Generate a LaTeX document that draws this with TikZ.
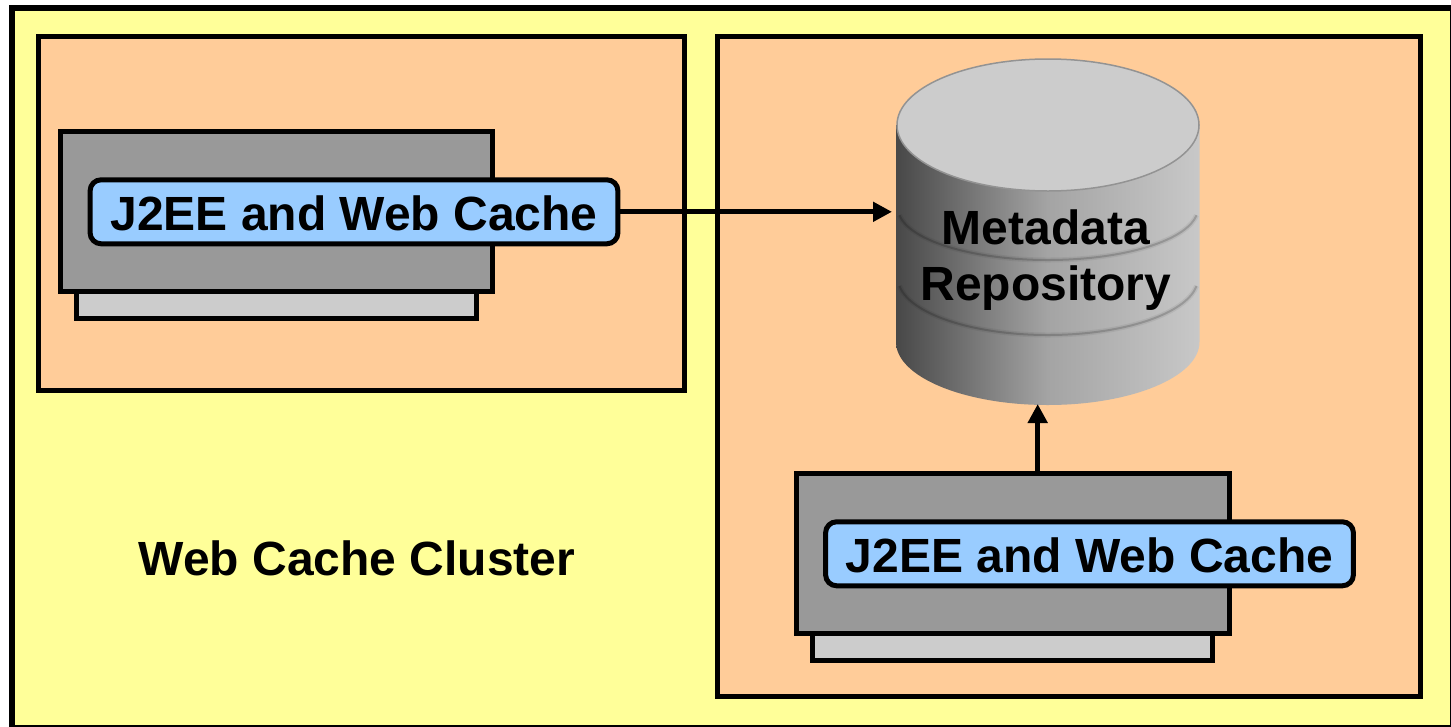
\documentclass[tikz,border=0pt]{standalone}
\usepackage{fontspec}
\setmainfont{Liberation Sans}
\usetikzlibrary{arrows.meta}
\definecolor{bgyellow}{HTML}{FFFF99}
\definecolor{panel}{HTML}{FFCC99}
\definecolor{srv}{HTML}{999999}
\definecolor{srvlow}{HTML}{CCCCCC}
\definecolor{tagblue}{HTML}{99CCFF}
\definecolor{dbtop}{HTML}{CCCCCC}
\definecolor{dbdark}{HTML}{484848}
\definecolor{dbmid}{HTML}{A4A4A4}
\definecolor{dbright}{HTML}{C8C8C8}
\tikzset{
  x=1pt,y=-1pt,
  box/.style={draw=black,line width=5pt,miter limit=10},
  panelbox/.style={box,fill=panel},
  srvbox/.style={rectangle,draw=black,line width=5pt,fill=srv,inner sep=0pt,minimum width=432.3pt,minimum height=160.2pt},
  lowbox/.style={rectangle,draw=black,line width=5pt,fill=srvlow,inner sep=0pt,minimum width=400.2pt,minimum height=40pt},
  tag/.style={draw=black,line width=5pt,fill=tagblue,rounded corners=11pt,minimum width=527.8pt,minimum height=64pt,inner sep=0pt,text height=38pt,text depth=0pt,font=\fontsize{48}{48}\bfseries\selectfont,text=black},
  lbl/.style={font=\fontsize{48}{56}\bfseries\selectfont,text=black,align=center,inner sep=0pt},
  conn/.style={draw=black,line width=5pt,-{Triangle[length=19pt,width=19pt]}},
  ringa/.style={draw=black,opacity=.06,line width=5pt},
  ringb/.style={draw=black,opacity=.17,line width=2pt},
}
\begin{document}
\begin{tikzpicture}
\useasboundingbox (0,0) rectangle (1451,726);
\fill[white] (0,0) rectangle (1451,726);
\draw[box,line width=6pt,fill=bgyellow] (11.5,8.2) rectangle (1452.5,727.5);
\draw[panelbox] (38.5,36) rectangle (684.5,390.3);
\draw[panelbox] (717,36) rectangle (1420.7,696);
% left server
\node[lowbox] (lowA) at (276.4,298) {};
\node[srvbox] (srvA) at (276.4,211.7) {};
\node[tag] (tagA) at (354,211.8) {J2EE and Web Cache};
% right server
\node[lowbox] (lowB) at (1012.8,640) {};
\node[srvbox] (srvB) at (1012.9,553.8) {};
\node[tag] (tagB) at (1089.5,553.8) {J2EE and Web Cache};
% cylinder
\path[left color=dbdark,right color=dbright,middle color=dbmid]
  (896,125) -- (896,342) arc[start angle=180,end angle=0,x radius=151.75,y radius=63] -- (1199.5,125) -- cycle;
\draw[ringa] (1048,208) ++(172:150 and 52) arc[start angle=172,end angle=8,x radius=150,y radius=52];
\draw[ringb] (1048,208) ++(172:150 and 52) arc[start angle=172,end angle=8,x radius=150,y radius=52];
\draw[ringa] (1048,278) ++(172:150 and 57) arc[start angle=172,end angle=8,x radius=150,y radius=57];
\draw[ringb] (1048,278) ++(172:150 and 57) arc[start angle=172,end angle=8,x radius=150,y radius=57];
\draw[draw=gray!85,line width=1.5pt,fill=dbtop] (1048,125) ellipse[x radius=151,y radius=66];
\coordinate (dbw) at (892,211.8);
\coordinate (dbs) at (1037.7,404);
\node[lbl] (dbl) at (1046,260.5) {Metadata\\Repository};
\node[lbl] (cl) at (357,558) {Web Cache Cluster};
\draw[conn] (tagA.east) -- (dbw);
\draw[conn] (srvB.north -| dbs) -- (dbs);
\end{tikzpicture}
\end{document}
